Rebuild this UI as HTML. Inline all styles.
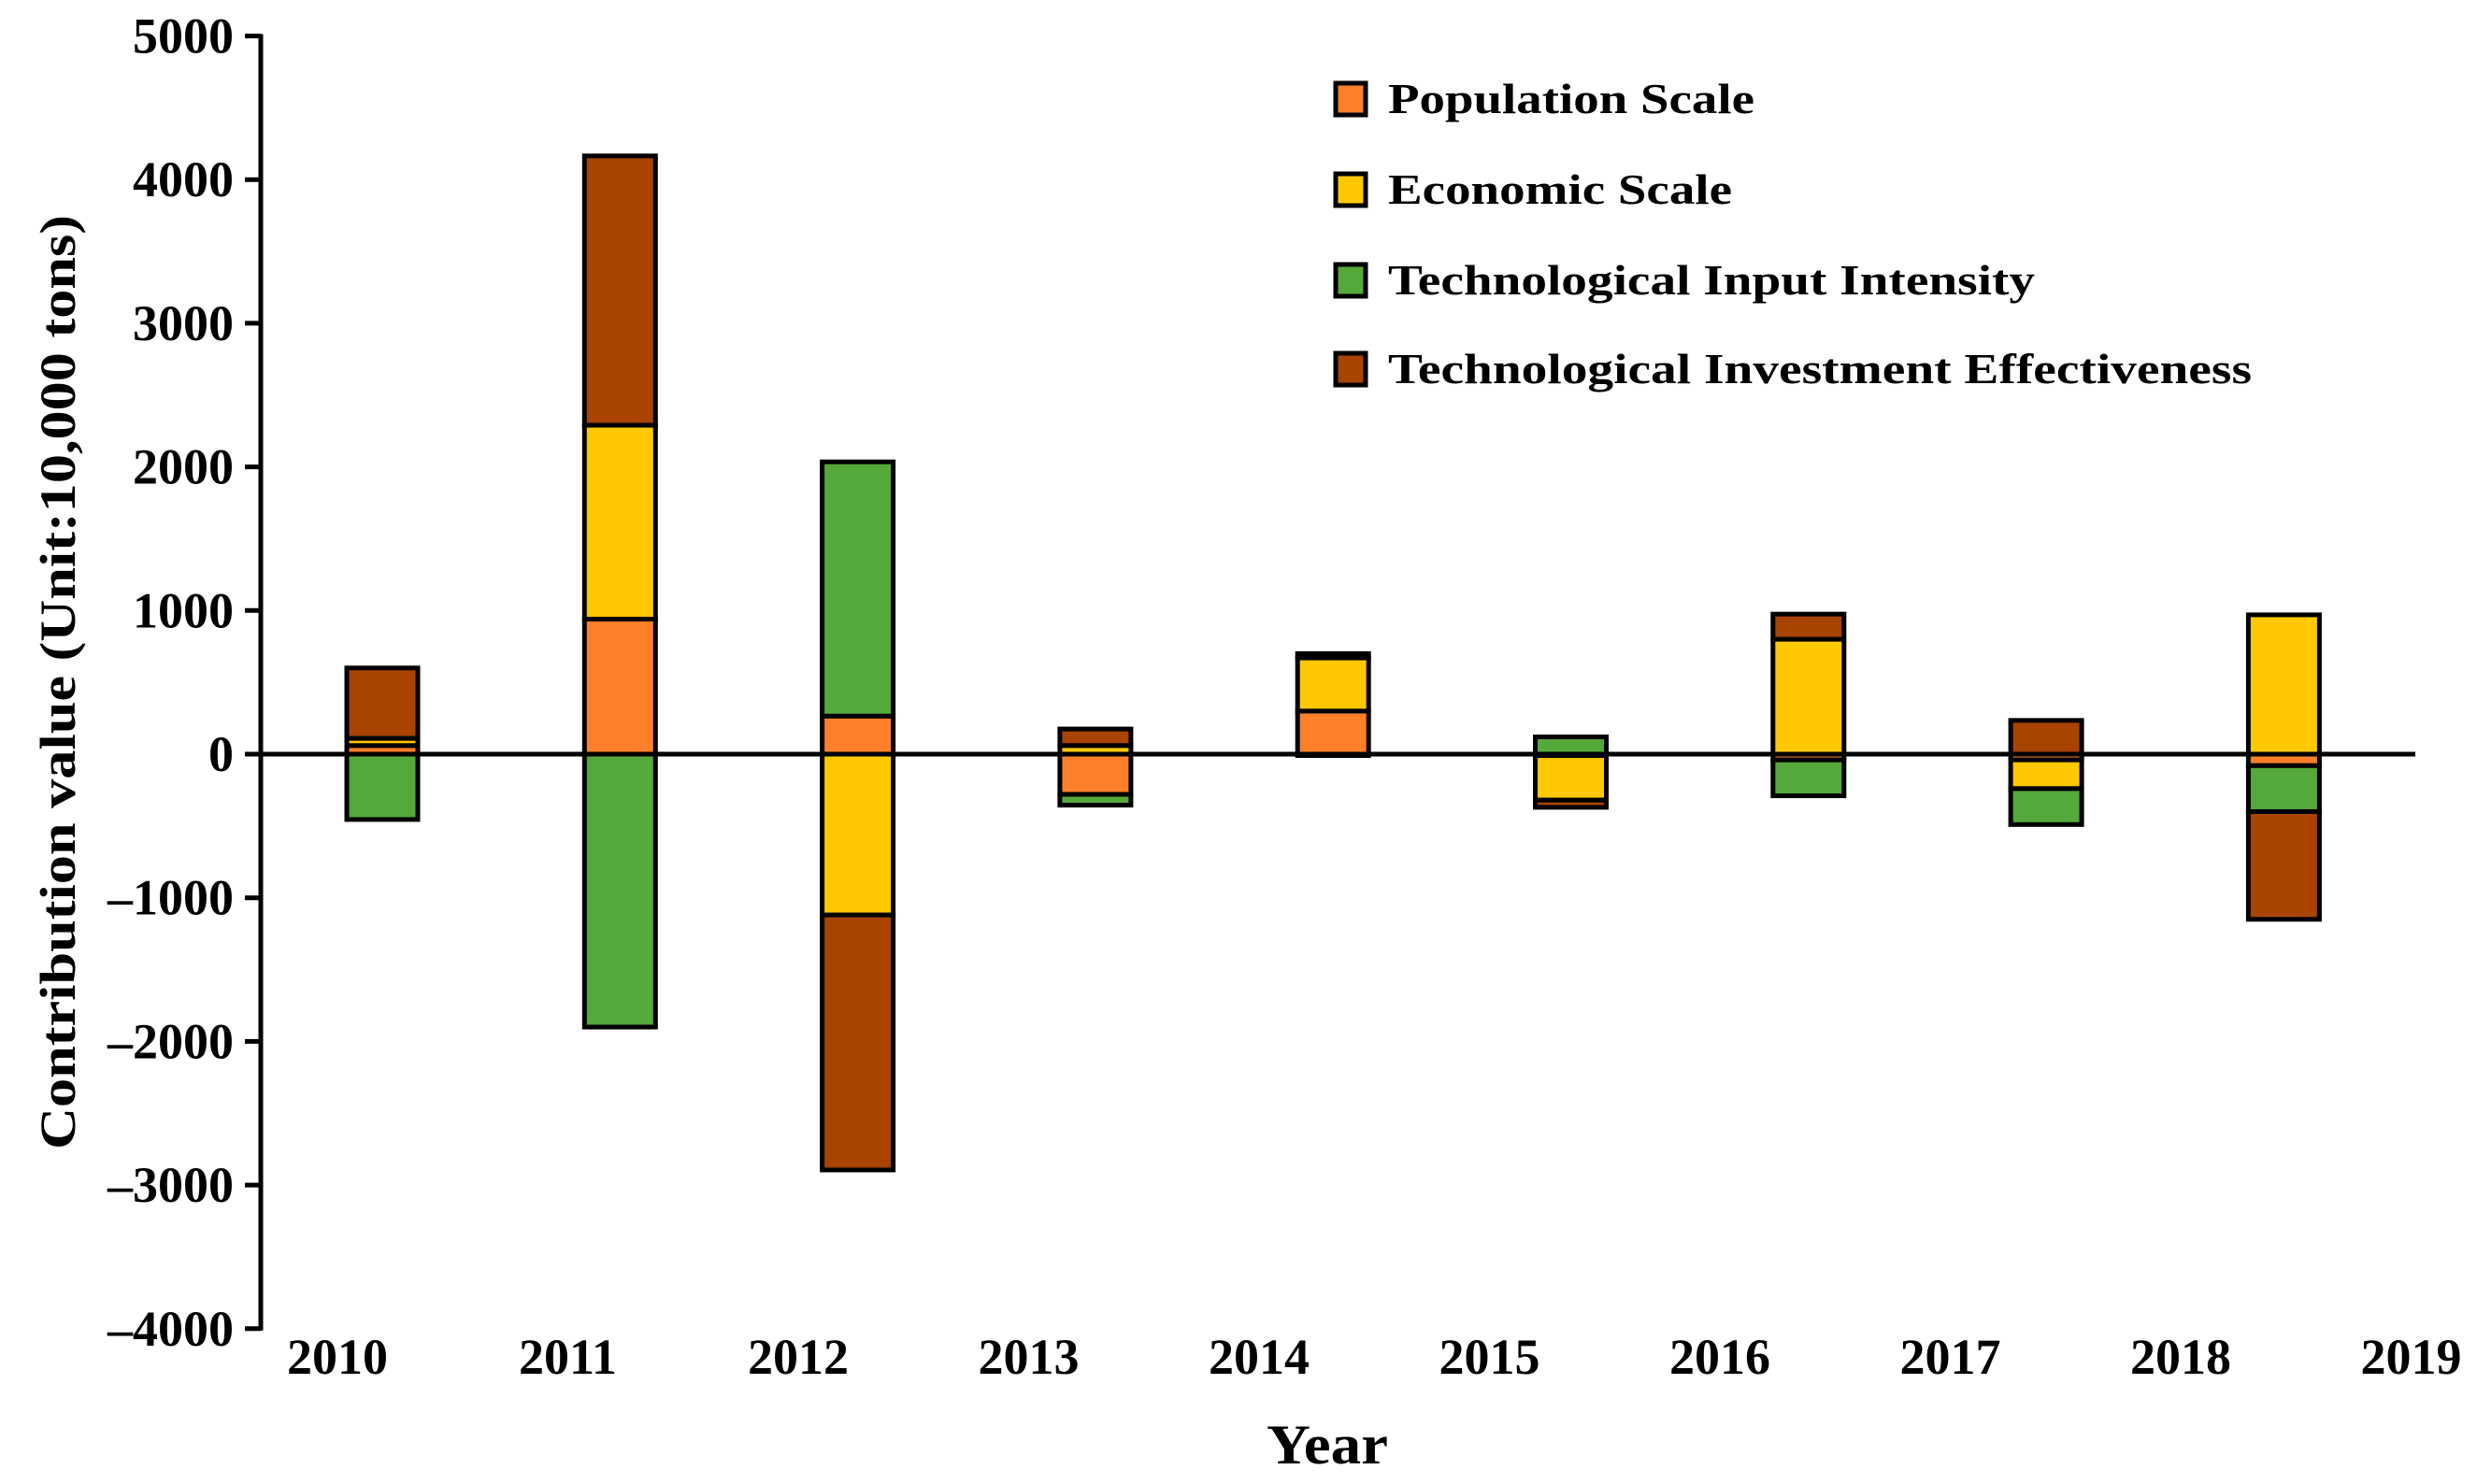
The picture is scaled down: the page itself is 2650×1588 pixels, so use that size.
<!DOCTYPE html>
<html><head><meta charset="utf-8"><style>
html,body{margin:0;padding:0;background:#fff;}
svg{display:block;font-family:"Liberation Serif",serif;font-weight:bold;}
</style></head>
<body>
<svg id="chart" width="2650" height="1588" viewBox="0 0 2650 1588" xmlns="http://www.w3.org/2000/svg">
<g id="plot"></g>
<g id="axes"></g>
<g id="legend"></g>
<text transform="translate(80,730) rotate(-90)" text-anchor="middle" font-size="54" textLength="1000" lengthAdjust="spacingAndGlyphs">Contribution value (Unit:10,000 tons)</text>
<text x="1420" y="1566" text-anchor="middle" font-size="60" textLength="130" lengthAdjust="spacingAndGlyphs">Year</text>
</svg>
<script>
const years = ["2010","2011","2012","2013","2014","2015","2016","2017","2018"];
const xTickLabels = ["2010","2011","2012","2013","2014","2015","2016","2017","2018","2019"];
const yTicks = [5000,4000,3000,2000,1000,0,-1000,-2000,-3000,-4000];
const seriesNames = ["Population Scale","Economic Scale","Technological Input Intensity","Technological Investment Effectiveness"];
const population = [60, 940, 265, -280, 300, -10, -40, -40, -80];
const economic = [50, 1350, -1120, 60, 370, -310, 800, -200, 970];
const techInput = [-455, -1900, 1770, -75, -10, 120, -250, -250, -320];
const techInvest = [490, 1875, -1775, 115, 30, -50, 175, 235, -750];
const colors = ["#FF7F2A","#FFC800","#55A83A","#A84300"];
const series = [population, economic, techInput, techInvest];

const NS = "http://www.w3.org/2000/svg";
function y(v){ return 807 - v*0.1537; }
function xBar(i){ return 409 + i*254.3; }
function xLabel(i){ return 361 + i*246.5; }
function mk(tag, attrs, parent){
  const e = document.createElementNS(NS, tag);
  for (const k in attrs) e.setAttribute(k, attrs[k]);
  parent.appendChild(e); return e;
}
const plot = document.getElementById("plot");
const axes = document.getElementById("axes");
const legend = document.getElementById("legend");
const bw = 76;

const zl = mk("line",{x1:279,x2:2584,y1:y(0),y2:y(0),stroke:"#000","stroke-width":5},axes);



years.forEach((yr,i)=>{
  let pos=0, neg=0;
  const g = mk("g",{},plot);
  
  
  series.forEach((s,k)=>{
    const v = s[i];
    let top, bot;
    if (v>=0){ bot=pos; pos+=v; top=pos; } else { top=neg; neg+=v; bot=neg; }
    const r = mk("rect",{x:xBar(i)-bw/2, y:y(top), width:bw, height:Math.max(0,y(bot)-y(top)), fill:colors[k], stroke:"#000","stroke-width":5},g);
    
    
  });
});

const ya = mk("line",{x1:279,x2:279,y1:y(5000)-2,y2:y(-4000)+2,stroke:"#000","stroke-width":5},axes);


yTicks.forEach(t=>{
  const tk = mk("line",{x1:262,x2:279,y1:y(t),y2:y(t),stroke:"#000","stroke-width":5},axes);
  
  
  const lbl = (t<0? "\u2013"+(-t) : String(t));
  const tx = mk("text",{x:250,y:y(t)+18,"text-anchor":"end","font-size":54},axes);
  tx.textContent = lbl;
  
  
});
xTickLabels.forEach((l,i)=>{
  const tx = mk("text",{x:xLabel(i),y:1470,"text-anchor":"middle","font-size":54},axes);
  tx.textContent = l;
  
  
});

const legY = [105,202,299,394];
const legW = [392,368,692,924];
seriesNames.forEach((n,k)=>{
  const g = mk("g",{},legend);
  
  
  mk("rect",{x:1429,y:legY[k]-16,width:32,height:34,fill:colors[k],stroke:"#000","stroke-width":5},g);
  const tx = mk("text",{x:1485,y:legY[k]+16,"font-size":46,textLength:legW[k],lengthAdjust:"spacingAndGlyphs"},g);
  tx.textContent = n;
});
</script>
</body></html>
